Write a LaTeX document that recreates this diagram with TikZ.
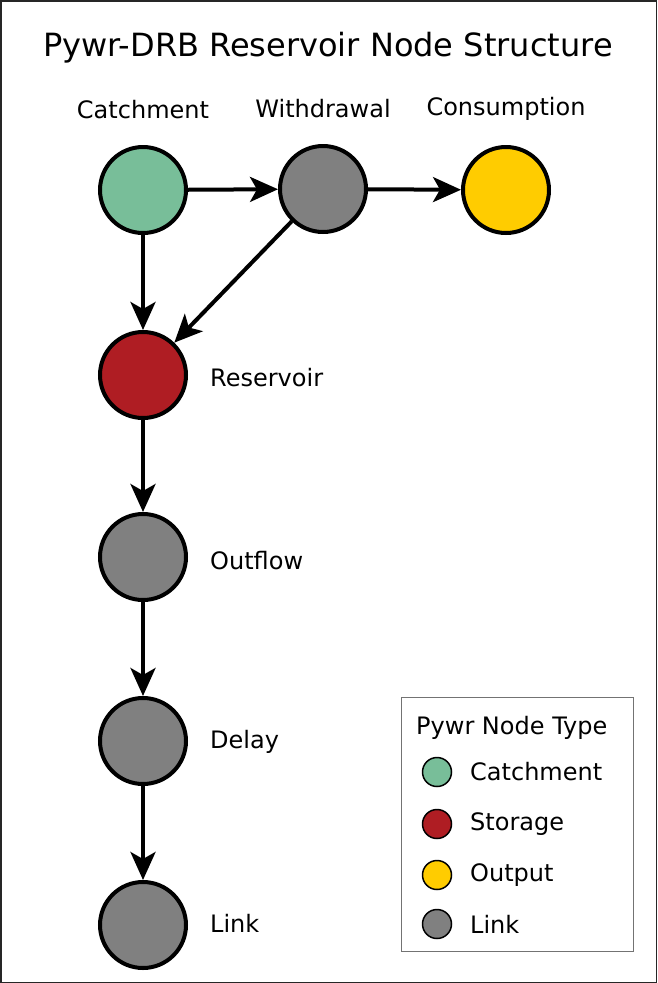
\documentclass[tikz,border=0pt]{standalone}
\usepackage{fontspec}
\setmainfont{DejaVu Sans}
\usetikzlibrary{arrows.meta}
\definecolor{catch}{HTML}{78BE99}
\definecolor{stor}{HTML}{AF1D23}
\definecolor{outp}{HTML}{FFCC00}
\definecolor{linkc}{HTML}{808080}
\begin{document}
\begin{tikzpicture}[x=1pt,y=-1pt,
  pnode/.style={circle,draw=black,line width=4pt,minimum size=86pt,inner sep=0pt},
  lbl/.style={inner sep=0pt,font=\fontsize{24}{28}\selectfont},
  lgc/.style={circle,draw=black,line width=1.5pt,minimum size=29pt,inner sep=0pt},
  flow/.style={line width=4pt,-{Stealth[length=28pt,width=25pt,inset=7pt]}}]
\useasboundingbox (0,0) rectangle (657,983);
\draw[line width=1.5pt,black!85] (0.75,0.75) rectangle (656.25,982.25);
\node[inner sep=0pt,font=\fontsize{32}{38}\selectfont] (title) at (328,48) {Pywr-DRB Reservoir Node Structure};
% nodes
\node[pnode,fill=catch] (catchment) at (143,190) {};
\node[pnode,fill=linkc] (withdrawal) at (323,189) {};
\node[pnode,fill=outp] (consumption) at (506,190) {};
\node[pnode,fill=stor] (reservoir) at (143,375) {};
\node[pnode,fill=linkc] (outflow) at (143,557) {};
\node[pnode,fill=linkc] (delay) at (143,741) {};
\node[pnode,fill=linkc] (link) at (143,925) {};
% labels
\node[lbl] (lcatch) at (143,110) {Catchment};
\node[lbl] (lwith) at (323,109) {Withdrawal};
\node[lbl] (lcons) at (506,109) {Consumption};
\node[lbl,anchor=west] (lres) at (210,378) {Reservoir};
\node[lbl,anchor=west] (lout) at (210,561) {Outflow};
\node[lbl,anchor=west] (ldel) at (210,742) {Delay};
\node[lbl,anchor=west] (llink) at (210,923) {Link};
% edges
\draw[flow] (catchment) -- (withdrawal);
\draw[flow] (withdrawal) -- (consumption);
\draw[flow] (catchment) -- (reservoir);
\draw[flow] (withdrawal) -- (reservoir);
\draw[flow] (reservoir) -- (outflow);
\draw[flow] (outflow) -- (delay);
\draw[flow] (delay) -- (link);
% legend
\node[draw=black!55,line width=1pt,minimum width=232pt,minimum height=254pt,inner sep=0pt] (legend) at (517,824) {};
\node[lbl,anchor=west] (lgtitle) at (416,728) {Pywr Node Type};
\node[lgc,fill=catch] (lg1) at (437,772) {};
\node[lgc,fill=stor] (lg2) at (437,824) {};
\node[lgc,fill=outp] (lg3) at (437,875) {};
\node[lgc,fill=linkc] (lg4) at (437,924) {};
\node[lbl,anchor=west] (lt1) at (470,772) {Catchment};
\node[lbl,anchor=west] (lt2) at (470,824) {Storage};
\node[lbl,anchor=west] (lt3) at (470,875) {Output};
\node[lbl,anchor=west] (lt4) at (470,924) {Link};
\end{tikzpicture}
\end{document}
